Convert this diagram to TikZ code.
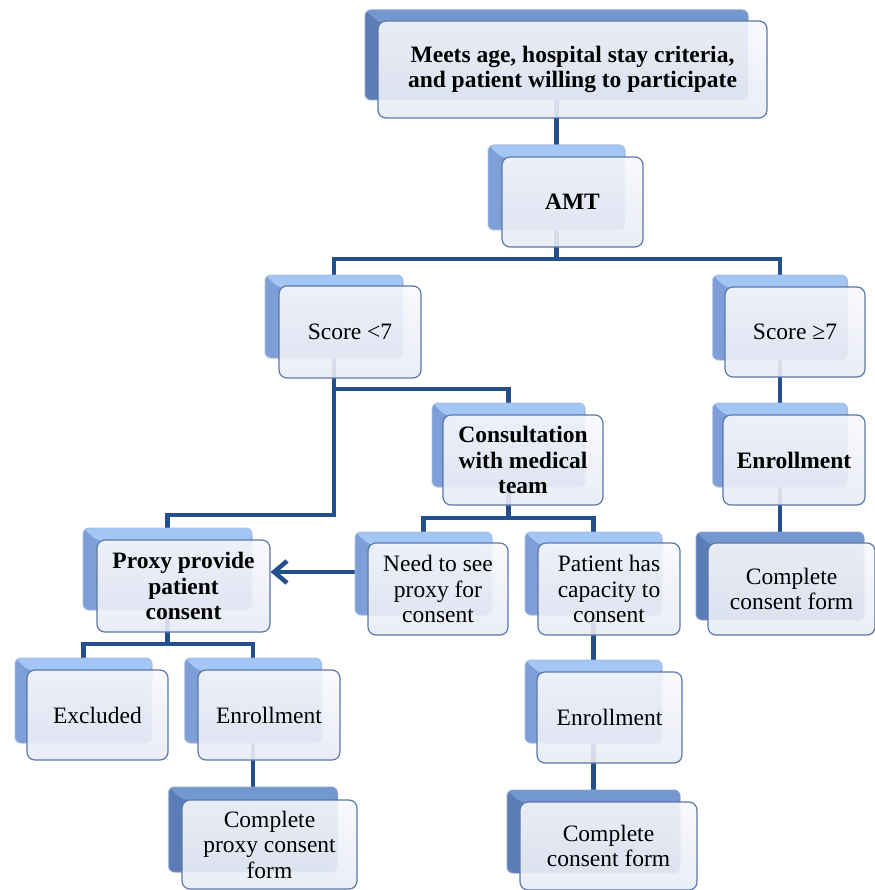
\documentclass[tikz,border=0pt]{standalone}
\usepackage{fontspec}
\setmainfont{Liberation Serif}
\usetikzlibrary{arrows.meta}

\definecolor{link}{HTML}{23508C}
\definecolor{edge}{HTML}{5A78AA}
\definecolor{litetop}{HTML}{A3C6F4}
\definecolor{liteside}{HTML}{7D9ED6}
\definecolor{darktop}{HTML}{7397CF}
\definecolor{darkside}{HTML}{5B7CB6}
\definecolor{facetop}{HTML}{F8F9FD}
\definecolor{facebot}{HTML}{E8EBF4}

\pgfdeclarelayer{bg}
\pgfsetlayers{bg,main}

\tikzset{
  backbase/.style 2 args={rectangle, rounded corners=6pt, inner sep=0pt, outer sep=0pt,
    fill=#2, draw=#2!70!white, line width=1.5pt, draw opacity=0.5,
    path picture={\fill[#1] (path picture bounding box.north west) -- ++(14,13)
      -- ([yshift=-13pt]path picture bounding box.north east)
      -- (path picture bounding box.north east) -- cycle;}},
  backlite/.style={backbase={litetop}{liteside}},
  backdark/.style={backbase={darktop}{darkside}},
  face/.style={rectangle, rounded corners=8pt, draw=edge, line width=1.2pt,
    top color=facetop, bottom color=facebot, fill opacity=0.9, text opacity=1,
    align=center, inner sep=2pt, font=\fontsize{23.5}{25.5}\selectfont},
  strong/.style={font=\fontsize{23.5}{25.5}\selectfont\bfseries},
  conn/.style={draw=link, line width=4.5pt}
}

\begin{document}
\begin{tikzpicture}[x=1pt,y=-1pt]
\useasboundingbox (0,0) rectangle (874,890);

% backing plates (behind each box)
\node[backdark, minimum width=383pt, minimum height=90pt] (topB)   at (556.5,55)    {};
\node[backlite, minimum width=137pt, minimum height=85pt] (amtB)   at (556.5,187.5) {};
\node[backlite, minimum width=138pt, minimum height=83pt] (loB)    at (334,316.5)   {};
\node[backlite, minimum width=135pt, minimum height=85pt] (hiB)    at (780,317.5)   {};
\node[backlite, minimum width=153pt, minimum height=84pt] (consB)  at (508.5,445)   {};
\node[backlite, minimum width=135pt, minimum height=84pt] (enrRB)  at (780,445)     {};
\node[backdark, minimum width=168pt, minimum height=88pt] (cfRB)   at (780,576)     {};
\node[backlite, minimum width=169pt, minimum height=82pt] (proxyB) at (167.5,569)   {};
\node[backlite, minimum width=137pt, minimum height=83pt] (needB)  at (423.5,573.5) {};
\node[backlite, minimum width=137pt, minimum height=83pt] (capB)   at (593.5,573.5) {};
\node[backlite, minimum width=137pt, minimum height=85pt] (exclB)  at (83.5,700.5)  {};
\node[backlite, minimum width=137pt, minimum height=85pt] (enrLB)  at (253,700.5)   {};
\node[backdark, minimum width=169pt, minimum height=85pt] (cpLB)   at (253,829.5)   {};
\node[backlite, minimum width=137pt, minimum height=83pt] (enrMB)  at (593.5,701.5) {};
\node[backdark, minimum width=173pt, minimum height=83pt] (cpMB)   at (593.5,831.5) {};

% text boxes
\node[face, strong, minimum width=389pt, minimum height=97pt] (top) at (572.5,69.5)
  {Meets age, hospital stay criteria,\\and patient willing to participate};
\node[face, strong, minimum width=141pt, minimum height=90pt] (amt)   at (572.5,202) {AMT};
\node[face, minimum width=142pt, minimum height=92pt] (lo)    at (350,332) {Score <7};
\node[face, minimum width=140pt, minimum height=90pt] (hi)    at (795,332) {Score ≥7};
\node[face, strong, minimum width=160pt, minimum height=90pt] (cons) at (523,460)
  {Consultation\\with medical\\team};
\node[face, strong, minimum width=142pt, minimum height=90pt] (enrR) at (794,460) {Enrollment};
\node[face, minimum width=167pt, minimum height=92pt] (cfR)   at (791.5,589) {Complete\\consent form};
\node[face, strong, minimum width=173pt, minimum height=92pt] (proxy) at (183.5,586)
  {Proxy provide\\patient\\consent};
\node[face, minimum width=140pt, minimum height=92pt] (need)  at (438,589) {Need to see\\proxy for\\consent};
\node[face, minimum width=142pt, minimum height=92pt] (cap)   at (609,589) {Patient has\\capacity to\\consent};
\node[face, minimum width=141pt, minimum height=90pt] (excl)  at (97.5,715) {Excluded};
\node[face, minimum width=142pt, minimum height=90pt] (enrL)  at (269,715) {Enrollment};
\node[face, minimum width=175pt, minimum height=89pt] (cpL)   at (269.5,844.5) {Complete\\proxy consent\\form};
\node[face, minimum width=145pt, minimum height=91pt] (enrM)  at (609.5,717.5) {Enrollment};
\node[face, minimum width=177pt, minimum height=88pt] (cpM)   at (608.5,846) {Complete\\consent form};

% connectors, kept underneath the boxes
\begin{pgfonlayer}{bg}
\draw[conn] (topB.center) -- (amtB.north);
\draw[conn] (amtB.center) -- (amtB.center |- 0,259) -| (loB.north);
\draw[conn] (amtB.center |- 0,259) -| (hiB.north);
\draw[conn] (loB.center) -- (loB.center |- 0,389) -| (consB.north);
\draw[conn] (loB.center |- 0,389) -- (loB.center |- 0,515) -| (proxyB.north);
\draw[conn] (hiB.center) -- (enrRB.north);
\draw[conn] (enrRB.center) -- (cfRB.north);
\draw[conn] (consB.center) -- (consB.center |- 0,518) -| (needB.north);
\draw[conn] (consB.center |- 0,518) -| (capB.north);
\draw[conn] (proxyB.center) -- (proxyB.center |- 0,644) -| (exclB.north);
\draw[conn] (proxyB.center |- 0,644) -| (enrLB.north);
\draw[conn] (enrLB.center) -- (cpLB.north);
\draw[conn] (capB.center) -- (enrMB.north);
\draw[conn] (enrMB.center) -- (cpMB.north);
\draw[conn, -{Straight Barb[length=13pt,width=22pt]}] (needB.west |- 0,572) -- (proxy.east |- 0,572);
\end{pgfonlayer}
\end{tikzpicture}
\end{document}
